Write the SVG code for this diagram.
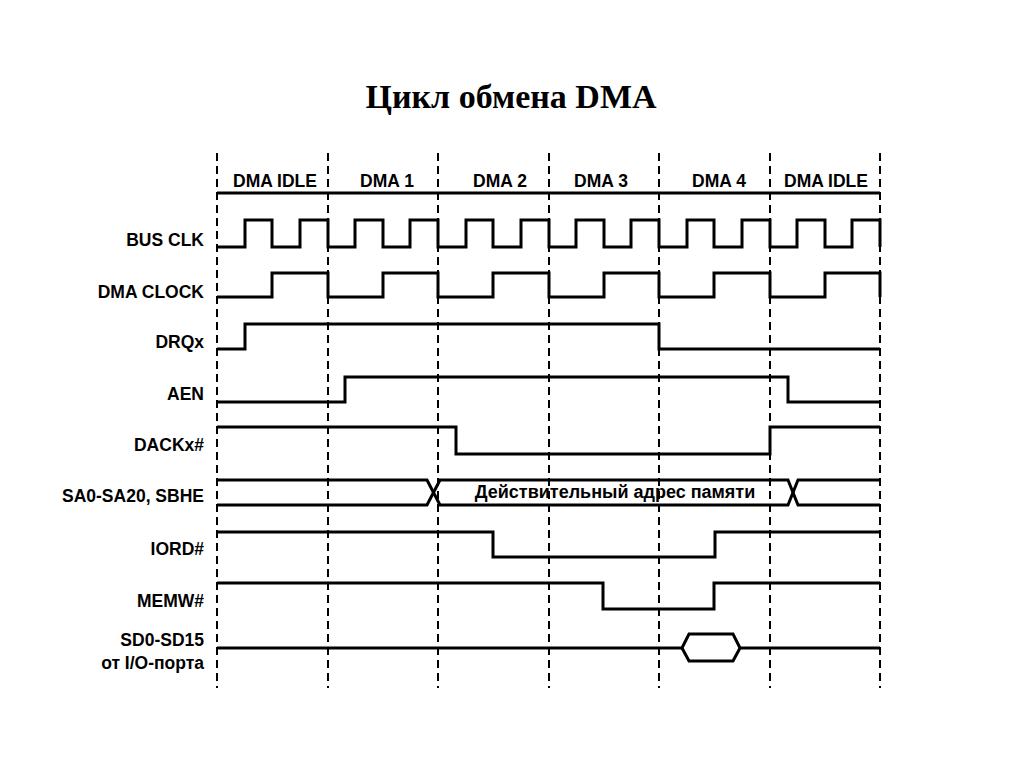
<svg xmlns="http://www.w3.org/2000/svg" width="1024" height="768" viewBox="0 0 1024 768">
<style>
.bg{fill:#ffffff}
.grid{stroke:#000;stroke-width:2;stroke-dasharray:8 5;fill:none}
.wave{stroke:#000;stroke-width:3;fill:none;stroke-linejoin:miter;stroke-linecap:butt}
.lbl{font-family:"Liberation Sans",Arial,sans-serif;font-size:17.5px;font-weight:bold;fill:#000;text-anchor:end}
.hdr{font-family:"Liberation Sans",Arial,sans-serif;font-size:17.5px;font-weight:bold;fill:#000;text-anchor:middle}
.bus{font-family:"Liberation Sans",Arial,sans-serif;font-size:18px;font-weight:bold;fill:#000;text-anchor:middle}
.title{font-family:"Liberation Serif","Times New Roman",serif;font-size:34px;font-weight:bold;fill:#000;text-anchor:middle}
</style>
<rect class="bg" x="0" y="0" width="1024" height="768"/>
<text class="title" x="511" y="108">Цикл обмена DMA</text>

<g id="grid">
<line class="grid" x1="217" y1="153" x2="217" y2="688"/>
<line class="grid" x1="328" y1="153" x2="328" y2="688"/>
<line class="grid" x1="438" y1="153" x2="438" y2="688"/>
<line class="grid" x1="549" y1="153" x2="549" y2="688"/>
<line class="grid" x1="659" y1="153" x2="659" y2="688"/>
<line class="grid" x1="770" y1="153" x2="770" y2="688"/>
<line class="grid" x1="880" y1="153" x2="880" y2="688"/>
</g>

<g id="header">
<path class="wave" d="M217,193 H880"/>
<text class="hdr" x="275" y="187">DMA IDLE</text>
<text class="hdr" x="387" y="187">DMA 1</text>
<text class="hdr" x="500" y="187">DMA 2</text>
<text class="hdr" x="601" y="187">DMA 3</text>
<text class="hdr" x="719" y="187">DMA 4</text>
<text class="hdr" x="826" y="187">DMA IDLE</text>
</g>

<g id="bus-clk">
<text class="lbl" x="204" y="246">BUS CLK</text>
<path class="wave" d="M217,247 H245 V220 H272 V247 H300 V220 H328 V247 H355 V220 H383 V247 H410 V220 H438 V247 H466 V220 H493 V247 H521 V220 H549 V247 H576 V220 H604 V247 H631 V220 H659 V247 H687 V220 H714 V247 H742 V220 H770 V247 H797 V220 H825 V247 H852 V220 H880 V247"/>
</g>

<g id="dma-clock">
<text class="lbl" x="204" y="298">DMA CLOCK</text>
<path class="wave" d="M217,297 H272 V273 H328 V297 H383 V273 H438 V297 H493 V273 H549 V297 H604 V273 H659 V297 H714 V273 H770 V297 H825 V273 H880 V297"/>
</g>

<g id="drqx">
<text class="lbl" x="204" y="348">DRQx</text>
<path class="wave" d="M217,349 H245 V324 H659 V349 H880"/>
</g>

<g id="aen">
<text class="lbl" x="204" y="400">AEN</text>
<path class="wave" d="M217,402 H345 V377 H788 V402 H880"/>
</g>

<g id="dackx">
<text class="lbl" x="204" y="451">DACKx#</text>
<path class="wave" d="M217,427 H456 V454 H770 V427 H880"/>
</g>

<g id="sa-bus">
<text class="lbl" x="204" y="502">SA0-SA20, SBHE</text>
<path class="wave" d="M217,480 H427 L440,505 H788 L798,480 H880"/>
<path class="wave" d="M217,505 H427 L440,480 H788 L798,505 H880"/>
<text class="bus" x="615" y="498">Действительный адрес памяти</text>
</g>

<g id="iord">
<text class="lbl" x="204" y="555">IORD#</text>
<path class="wave" d="M217,532 H493 V557 H715 V532 H880"/>
</g>

<g id="memw">
<text class="lbl" x="204" y="607">MEMW#</text>
<path class="wave" d="M217,583 H603 V609 H714 V583 H880"/>
</g>

<g id="sd-bus">
<text class="lbl" x="204" y="646">SD0-SD15</text>
<text class="lbl" x="204" y="669">от I/O-порта</text>
<path class="wave" d="M217,648 H682 L689,634 H733 L740,648 H880"/>
<path class="wave" d="M682,648 L689,661 H733 L740,648"/>
</g>
</svg>
